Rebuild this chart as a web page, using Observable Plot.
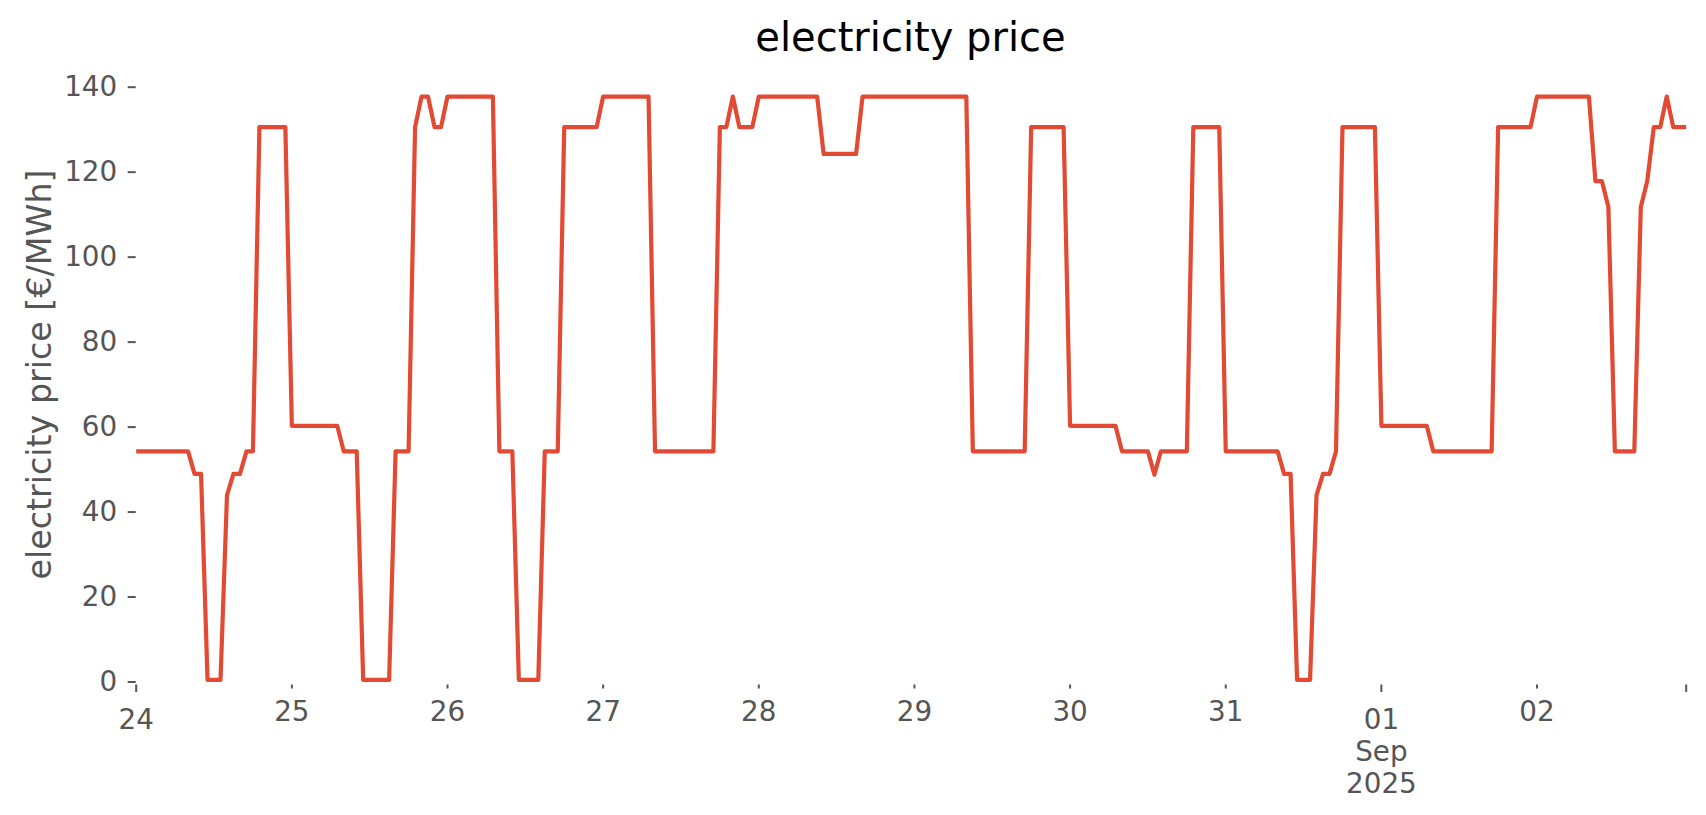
<!DOCTYPE html>
<html>
<head>
<meta charset="utf-8">
<script src="https://cdn.jsdelivr.net/npm/d3@7"></script>
<script src="https://cdn.jsdelivr.net/npm/@observablehq/plot@0.6"></script>
<style>
html, body { margin: 0; padding: 0; background: #ffffff; }
#wrap { width: 1706px; height: 815px; position: relative; overflow: hidden; font-family: "DejaVu Sans", sans-serif; }
#title { position: absolute; left: 910.5px; top: 17px; transform: translateX(-50%); font-size: 40px; line-height: 40px; color: #000000; white-space: nowrap; }
#chart { position: absolute; left: 0; top: 70px; }
</style>
</head>
<body>
<div id="wrap">
  <div id="title">electricity price</div>
  <div id="chart"></div>
</div>
<script>
// hourly series, first value at this timestamp (UTC)
const seriesStart = "2025-08-24T00:00:00Z";

// electricity price [€/MWh], one value per hour, 10 days x 24 hours
const priceEurMWh = [
  // Aug 24
  54.3, 54.3, 54.3, 54.3, 54.3, 54.3, 54.3, 54.3, 54.3, 49.0, 49.0, 0.5, 0.5, 0.5, 44.0, 49.0, 49.0, 54.3, 54.3, 130.6, 130.6, 130.6, 130.6, 130.6,
  // Aug 25
  60.3, 60.3, 60.3, 60.3, 60.3, 60.3, 60.3, 60.3, 54.3, 54.3, 54.3, 0.5, 0.5, 0.5, 0.5, 0.5, 54.3, 54.3, 54.3, 130.6, 137.8, 137.8, 130.6, 130.6,
  // Aug 26
  137.8, 137.8, 137.8, 137.8, 137.8, 137.8, 137.8, 137.8, 54.3, 54.3, 54.3, 0.5, 0.5, 0.5, 0.5, 54.3, 54.3, 54.3, 130.6, 130.6, 130.6, 130.6, 130.6, 130.6,
  // Aug 27
  137.8, 137.8, 137.8, 137.8, 137.8, 137.8, 137.8, 137.8, 54.3, 54.3, 54.3, 54.3, 54.3, 54.3, 54.3, 54.3, 54.3, 54.3, 130.6, 130.6, 137.8, 130.6, 130.6, 130.6,
  // Aug 28
  137.8, 137.8, 137.8, 137.8, 137.8, 137.8, 137.8, 137.8, 137.8, 137.8, 124.3, 124.3, 124.3, 124.3, 124.3, 124.3, 137.8, 137.8, 137.8, 137.8, 137.8, 137.8, 137.8, 137.8,
  // Aug 29
  137.8, 137.8, 137.8, 137.8, 137.8, 137.8, 137.8, 137.8, 137.8, 54.3, 54.3, 54.3, 54.3, 54.3, 54.3, 54.3, 54.3, 54.3, 130.6, 130.6, 130.6, 130.6, 130.6, 130.6,
  // Aug 30
  60.3, 60.3, 60.3, 60.3, 60.3, 60.3, 60.3, 60.3, 54.3, 54.3, 54.3, 54.3, 54.3, 48.8, 54.3, 54.3, 54.3, 54.3, 54.3, 130.6, 130.6, 130.6, 130.6, 130.6,
  // Aug 31
  54.3, 54.3, 54.3, 54.3, 54.3, 54.3, 54.3, 54.3, 54.3, 49.0, 49.0, 0.5, 0.5, 0.5, 44.0, 49.0, 49.0, 54.3, 130.6, 130.6, 130.6, 130.6, 130.6, 130.6,
  // Sep 01
  60.3, 60.3, 60.3, 60.3, 60.3, 60.3, 60.3, 60.3, 54.3, 54.3, 54.3, 54.3, 54.3, 54.3, 54.3, 54.3, 54.3, 54.3, 130.6, 130.6, 130.6, 130.6, 130.6, 130.6,
  // Sep 02
  137.8, 137.8, 137.8, 137.8, 137.8, 137.8, 137.8, 137.8, 137.8, 117.9, 117.9, 111.8, 54.3, 54.3, 54.3, 54.3, 111.8, 117.9, 130.6, 130.6, 137.8, 130.6, 130.6, 130.6
];

const yTicks = [0, 20, 40, 60, 80, 100, 120, 140];
const yLabel = "electricity price [€/MWh]";

const majorTicks = ["2025-08-24T00:00:00Z", "2025-09-01T00:00:00Z", "2025-09-02T23:00:00Z"];
const majorTickLabels = ["24", "01\nSep\n2025", ""];
const minorTicks = ["2025-08-25T00:00:00Z", "2025-08-26T00:00:00Z", "2025-08-27T00:00:00Z", "2025-08-28T00:00:00Z",
                    "2025-08-29T00:00:00Z", "2025-08-30T00:00:00Z", "2025-08-31T00:00:00Z", "2025-09-02T00:00:00Z"];
const minorTickLabels = ["25", "26", "27", "28", "29", "30", "31", "02"];

const t0 = new Date(seriesStart).getTime();
const table = priceEurMWh.map((v, i) => ({ time: new Date(t0 + i * 3600000), price: v }));

const majorDates = majorTicks.map(d => new Date(d));
const minorDates = minorTicks.map(d => new Date(d));
const majorMap = new Map(majorDates.map((d, i) => [+d, majorTickLabels[i]]));
const minorMap = new Map(minorDates.map((d, i) => [+d, minorTickLabels[i]]));

const gray = "#555555";

const chart = Plot.plot({
  width: 1706,
  height: 745,
  marginLeft: 135.7,
  marginRight: 20.3,
  marginTop: 16.7,
  marginBottom: 130.5,
  style: { fontFamily: "DejaVu Sans, sans-serif", background: "transparent", color: gray, overflow: "visible" },
  x: { type: "utc", domain: [table[0].time, table[table.length - 1].time] },
  y: { domain: [-0.706, 140] },
  marks: [
    Plot.axisY({ ticks: yTicks, tickSize: 8, tickPadding: 11, fontSize: 27.8, label: null,
                 stroke: gray, fill: gray, strokeWidth: 2, tickFormat: d => String(d) }),
    Plot.axisX({ ticks: minorDates, tickSize: 4, tickPadding: 12.6, fontSize: 27.8, label: null,
                 stroke: gray, fill: gray, strokeWidth: 2, tickFormat: d => minorMap.get(+d) }),
    Plot.axisX({ ticks: majorDates, tickSize: 7.5, tickPadding: 13.8, fontSize: 27.8, label: null, lineHeight: 1.15,
                 stroke: gray, fill: gray, strokeWidth: 2, tickFormat: d => majorMap.get(+d) }),
    Plot.text([yLabel], { frameAnchor: "left", rotate: -90, textAnchor: "middle", dx: -85.7, dy: -11.6, lineAnchor: "bottom",
                          fontSize: 33.3, fill: gray }),
    Plot.line(table, { x: "time", y: "price", stroke: "#E24A33", strokeWidth: 4.2,
                       strokeLinejoin: "round", strokeLinecap: "butt" })
  ]
});

document.getElementById("chart").appendChild(chart);
</script>
</body>
</html>
